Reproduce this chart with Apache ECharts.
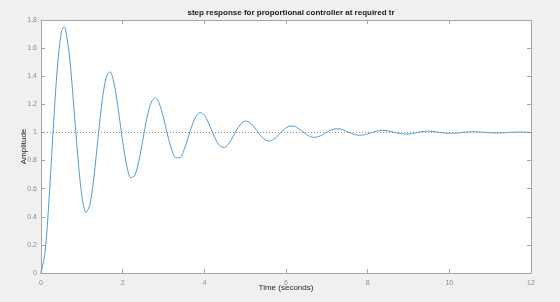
<!DOCTYPE html>
<html>
<head>
<meta charset="utf-8">
<script src="https://cdn.jsdelivr.net/npm/echarts@6/dist/echarts.min.js"></script>
<style>
  html, body { margin: 0; padding: 0; background: #f0f0f0; }
  #chart-container { width: 560px; height: 302px; }
</style>
</head>
<body>
<div id="chart-container"></div>
<script>
var dom = document.getElementById('chart-container');
var myChart = echarts.init(dom, null, { renderer: 'canvas' });

// step response (time in seconds, amplitude)
var timeSec = [
  0, 0.1, 0.2, 0.3, 0.4, 0.5, 0.57, 0.6, 0.7, 0.8, 0.9,
  1.0, 1.1, 1.2, 1.3, 1.4, 1.5, 1.6, 1.69, 1.8, 1.9,
  2.0, 2.1, 2.2, 2.3, 2.4, 2.5, 2.6, 2.7, 2.8, 2.9,
  3.0, 3.1, 3.2, 3.3, 3.4, 3.5, 3.6, 3.7, 3.8, 3.9,
  4.0, 4.1, 4.2, 4.3, 4.4, 4.5, 4.6, 4.7, 4.8, 4.9,
  5.0, 5.1, 5.2, 5.3, 5.4, 5.5, 5.6, 5.7, 5.8, 5.9,
  6.0, 6.1, 6.2, 6.3, 6.4, 6.5, 6.6, 6.7, 6.8, 6.9,
  7.0, 7.1, 7.2, 7.3, 7.4, 7.5, 7.6, 7.7, 7.8, 7.9,
  8.0, 8.1, 8.2, 8.3, 8.4, 8.5, 8.6, 8.7, 8.8, 8.9,
  9.0, 9.1, 9.2, 9.3, 9.4, 9.5, 9.6, 9.7, 9.8, 9.9,
  10.0, 10.1, 10.2, 10.3, 10.4, 10.5, 10.6, 10.7, 10.8, 10.9,
  11.0, 11.1, 11.2, 11.3, 11.4, 11.5, 11.6, 11.7, 11.8, 11.9,
  12.0
];
var amplitude = [
  0, 0.150, 0.537, 1.025, 1.459, 1.715, 1.753, 1.736, 1.536, 1.197, 0.832,
  0.551, 0.430, 0.489, 0.694, 0.970, 1.228, 1.395, 1.432, 1.332, 1.147,
  0.935, 0.763, 0.678, 0.696, 0.802, 0.957, 1.110, 1.215, 1.247, 1.203,
  1.103, 0.982, 0.878, 0.820, 0.820, 0.874, 0.960, 1.050, 1.116, 1.142,
  1.123, 1.069, 1.001, 0.938, 0.900, 0.895, 0.922, 0.969, 1.021, 1.062,
  1.081, 1.074, 1.046, 1.007, 0.970, 0.945, 0.939, 0.952, 0.977, 1.007,
  1.032, 1.045, 1.044, 1.029, 1.008, 0.986, 0.970, 0.965, 0.971, 0.984,
  1.002, 1.017, 1.025, 1.026, 1.018, 1.006, 0.994, 0.984, 0.980, 0.982,
  0.990, 0.999, 1.008, 1.014, 1.015, 1.011, 1.005, 0.997, 0.992, 0.989,
  0.989, 0.993, 0.999, 1.004, 1.008, 1.009, 1.007, 1.003, 0.999, 0.996,
  0.994, 0.994, 0.996, 0.999, 1.002, 1.004, 1.005, 1.004, 1.002, 1.000,
  0.998, 0.996, 0.996, 0.997, 0.999, 1.001, 1.002, 1.003, 1.003, 1.002,
  1.000
];
var steadyState = 1;

var xRange = [0, 12, 2];
var yRange = [0, 1.8, 0.2];

var titleText = 'step response for proportional controller at required tr';
var xName = 'Time (seconds)';
var yName = 'Amplitude';

var seriesData = timeSec.map(function (t, i) { return [t, amplitude[i]]; });

var axisGrey = '#a6a6a6';
var labelGrey = '#8c8c8c';
var font = 'Arial, "Liberation Sans", Helvetica, sans-serif';

function makeAxis(kind, range, showLabels, pos) {
  return {
    type: 'value',
    position: pos,
    min: range[0],
    max: range[1],
    interval: range[2],
    axisLine: { show: true, onZero: false, lineStyle: { color: axisGrey, width: 1 } },
    axisTick: { show: true, inside: true, length: 4, lineStyle: { color: axisGrey } },
    axisLabel: {
      show: showLabels,
      color: labelGrey,
      fontSize: 7,
      fontFamily: font,
      margin: kind === 'x' ? 7 : 4
    },
    splitLine: { show: false }
  };
}

var xMain = makeAxis('x', xRange, true, 'bottom');
xMain.name = xName;
xMain.nameLocation = 'middle';
xMain.nameGap = 11;
xMain.nameMoveOverlap = false;
xMain.nameTextStyle = { color: '#262626', fontSize: 8, fontFamily: font };

var yMain = makeAxis('y', yRange, true, 'left');
yMain.name = yName;
yMain.nameLocation = 'middle';
yMain.nameGap = 13;
yMain.nameMoveOverlap = false;
yMain.nameTextStyle = { color: '#262626', fontSize: 8, fontFamily: font };

option = {
  backgroundColor: '#f0f0f0',
  animation: false,
  title: {
    text: titleText,
    left: 286,
    textAlign: 'center',
    top: 4,
    textStyle: { color: '#1a1a1a', fontSize: 8, fontWeight: 'bold', fontFamily: font }
  },
  grid: {
    left: 41,
    right: 29,
    top: 20,
    bottom: 29,
    outerBoundsMode: 'none',
    containLabel: false,
    show: true,
    backgroundColor: '#ffffff',
    borderWidth: 0
  },
  xAxis: [xMain, makeAxis('x', xRange, false, 'top')],
  yAxis: [yMain, makeAxis('y', yRange, false, 'right')],
  series: [
    {
      type: 'line',
      data: seriesData,
      xAxisIndex: 0,
      yAxisIndex: 0,
      showSymbol: false,
      smooth: 0.3,
      lineStyle: { color: '#4d9ddb', width: 1 },
      markLine: {
        silent: true,
        symbol: ['none', 'none'],
        label: { show: false },
        lineStyle: { color: '#8c8c8c', type: [1, 2], width: 1 },
        data: [{ yAxis: steadyState }]
      }
    }
  ]
};

myChart.setOption(option);
window.addEventListener('resize', myChart.resize);
</script>
</body>
</html>
